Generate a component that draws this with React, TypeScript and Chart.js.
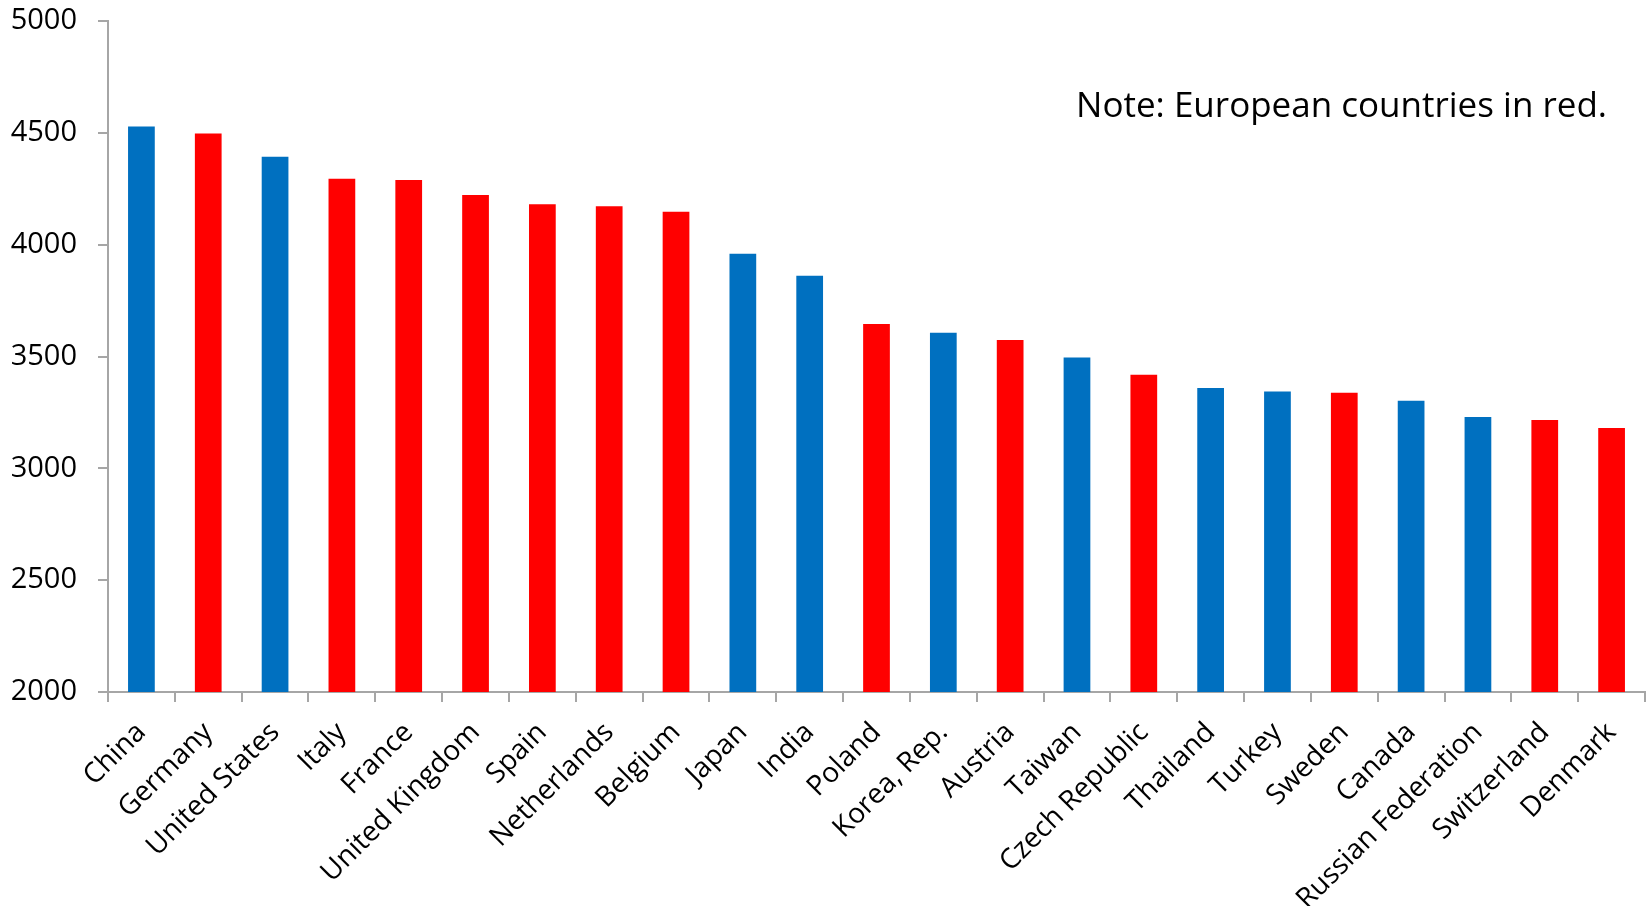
import React, { useEffect, useRef } from "react";
import { Chart, registerables } from "chart.js";

Chart.register(...registerables);

const countries = [
  "China", "Germany", "United States", "Italy", "France", "United Kingdom",
  "Spain", "Netherlands", "Belgium", "Japan", "India", "Poland",
  "Korea, Rep.", "Austria", "Taiwan", "Czech Republic", "Thailand", "Turkey",
  "Sweden", "Canada", "Russian Federation", "Switzerland", "Denmark",
];

const values = [
  4528, 4497, 4393, 4295, 4289, 4222,
  4181, 4172, 4147, 3959, 3861, 3645,
  3606, 3574, 3495, 3418, 3359, 3344,
  3338, 3302, 3230, 3216, 3180,
];

const isEuropean = [
  false, true, false, true, true, true,
  true, true, true, false, false, true,
  false, true, false, true, false, false,
  true, false, false, true, true,
];

const yMin = 2000;
const yMax = 5000;
const yStep = 500;

const noteText = "Note: European countries in red.";

const BLUE = "#0070C0";
const RED = "#FF0000";
const AXIS = "#A6A6A6";
const FONT = "'Open Sans', 'Noto Sans', sans-serif";

const notePlugin = {
  id: "note",
  afterDraw(chart: any) {
    const { ctx, chartArea } = chart;
    ctx.save();
    ctx.font = `35px ${FONT}`;
    ctx.fillStyle = "#000";
    ctx.textAlign = "right";
    ctx.textBaseline = "alphabetic";
    ctx.fillText(noteText, chartArea.right - 38, chartArea.top + 96);
    ctx.restore();
  },
};

export default function App() {
  const ref = useRef<HTMLCanvasElement | null>(null);

  useEffect(() => {
    if (!ref.current) return;
    const chart = new Chart(ref.current, {
      type: "bar",
      data: {
        labels: countries,
        datasets: [
          {
            data: values,
            backgroundColor: isEuropean.map((e) => (e ? RED : BLUE)),
            borderWidth: 0,
            barPercentage: 0.4,
            categoryPercentage: 1,
          },
        ],
      },
      options: {
        animation: false,
        responsive: false,
        maintainAspectRatio: false,
        layout: { padding: { left: 0, right: 5, top: 0, bottom: 0 } },
        plugins: {
          legend: { display: false },
          tooltip: { enabled: false },
        },
        scales: {
          x: {
            grid: {
              display: true,
              drawOnChartArea: false,
              drawTicks: true,
              tickLength: 10,
              color: AXIS,
              lineWidth: 2,
              offset: true,
            },
            border: { display: true, color: AXIS, width: 2 },
            ticks: {
              autoSkip: false,
              minRotation: 45,
              maxRotation: 45,
              color: "#000",
              padding: 14,
              font: { family: FONT, size: 28 },
            },
            afterFit: (scale: any) => {
              scale.height = 214;
            },
          },
          y: {
            min: yMin,
            max: yMax,
            ticks: {
              stepSize: yStep,
              color: "#000",
              padding: 21,
              font: { family: FONT, size: 29 },
              callback: (v: any) => String(v),
            },
            grid: {
              display: true,
              drawOnChartArea: false,
              drawTicks: true,
              tickLength: 10,
              color: AXIS,
              lineWidth: 2,
            },
            border: { display: true, color: AXIS, width: 2 },
            afterFit: (scale: any) => {
              scale.width = 108;
              scale.paddingTop = 21;
              scale.paddingBottom = 18;
            },
          },
        },
      },
      plugins: [notePlugin],
    });
    return () => chart.destroy();
  }, []);

  return (
    <div style={{ position: "fixed", left: 0, top: 0, width: 1650, height: 906, background: "#fff" }}>
      <canvas ref={ref} width={1650} height={906} style={{ display: "block" }} />
    </div>
  );
}
